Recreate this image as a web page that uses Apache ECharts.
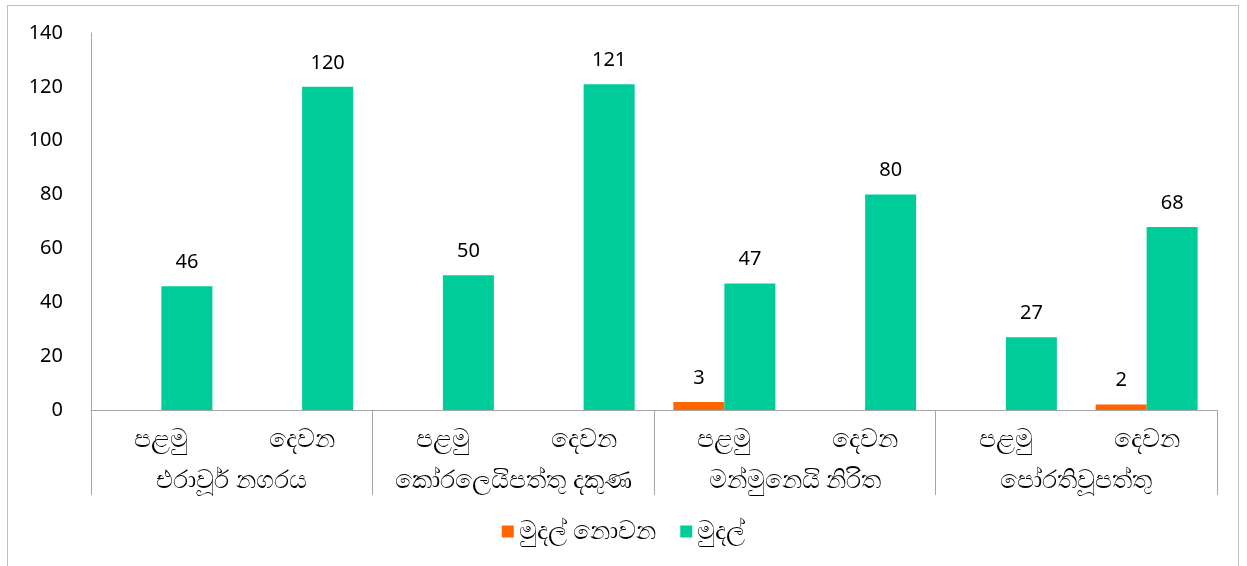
<!DOCTYPE html>
<html>
<head>
<meta charset="utf-8">
<script src="https://cdn.jsdelivr.net/npm/echarts@6/dist/echarts.min.js"></script>
<style>
  html, body { margin: 0; padding: 0; background: #fff; }
  #wrap { position: absolute; left: 7px; top: 5px; width: 1232px; height: 570px; border: 1px solid #bfbfbf; box-sizing: border-box; }
  #chart { position: absolute; left: 0; top: 0; width: 1247px; height: 566px; }
</style>
</head>
<body>
<div id="wrap"></div>
<div id="chart"></div>
<script>
// sub-categories (bottom row) and groups (second row)
const rounds = ['පළමු', 'දෙවන', 'පළමු', 'දෙවන', 'පළමු', 'දෙවන', 'පළමු', 'දෙවන']
const areas = ['එරාවූර් නගරය', 'කෝරලෙයිපත්තු දකුණ', 'මන්මුනෙයි නිරිත', 'පෝරතිවූපත්තු']
const seriesNames = ['මුදල් නොවන', 'මුදල්']
const nonCash = [0, 0, 0, 0, 3, 0, 0, 2]
const cash = [46, 120, 50, 121, 47, 80, 27, 68]
const yTicks = [0, 20, 40, 60, 80, 100, 120, 140]

const font = "'Noto Sans', 'Open Sans', sans-serif"
const chart = echarts.init(document.getElementById('chart'), null, { renderer: 'canvas' })

const hideZero = p => (p.value ? String(p.value) : '')

const option = {
  textStyle: { fontFamily: font },
  animation: false,
  grid: {
    left: 91,
    right: 30,
    top: 33,
    bottom: 156
  },
  legend: {
    bottom: 17,
    left: 'center',
    icon: 'rect',
    itemWidth: 12,
    itemHeight: 12,
    itemGap: 24,
    itemTextGap: 4,
    textStyle: { fontSize: 25, color: '#000', fontFamily: font },
    data: seriesNames
  },
  xAxis: [
    {
      type: 'category',
      data: rounds,
      axisLine: { show: true, lineStyle: { color: '#a6a6a6' } },
      axisTick: { show: false },
      axisLabel: { interval: 0, margin: 17, fontSize: 25, color: '#000' }
    },
    {
      type: 'category',
      data: areas,
      position: 'bottom',
      axisLine: { show: false },
      axisTick: { show: true, length: 85, lineStyle: { color: '#a6a6a6' } },
      axisLabel: { interval: 0, margin: 58, fontSize: 25, color: '#000' }
    }
  ],
  yAxis: {
    type: 'value',
    min: yTicks[0],
    max: yTicks[yTicks.length - 1],
    interval: 20,
    splitLine: { show: false },
    axisLine: { show: true, lineStyle: { color: '#a6a6a6' } },
    axisTick: { show: false },
    axisLabel: { margin: 28, fontSize: 20, color: '#000' }
  },
  series: [
    {
      name: seriesNames[0],
      type: 'bar',
      xAxisIndex: 0,
      data: nonCash,
      barWidth: 51,
      barGap: '0%',
      itemStyle: { color: '#ff6600' },
      label: { show: true, position: 'top', distance: 14, fontSize: 20, color: '#000', formatter: hideZero }
    },
    {
      name: seriesNames[1],
      type: 'bar',
      xAxisIndex: 0,
      data: cash,
      barWidth: 51,
      barGap: '0%',
      itemStyle: { color: '#00cc99' },
      label: { show: true, position: 'top', distance: 14, fontSize: 20, color: '#000', formatter: hideZero }
    }
  ]
}

chart.setOption(option)
</script>
</body>
</html>
